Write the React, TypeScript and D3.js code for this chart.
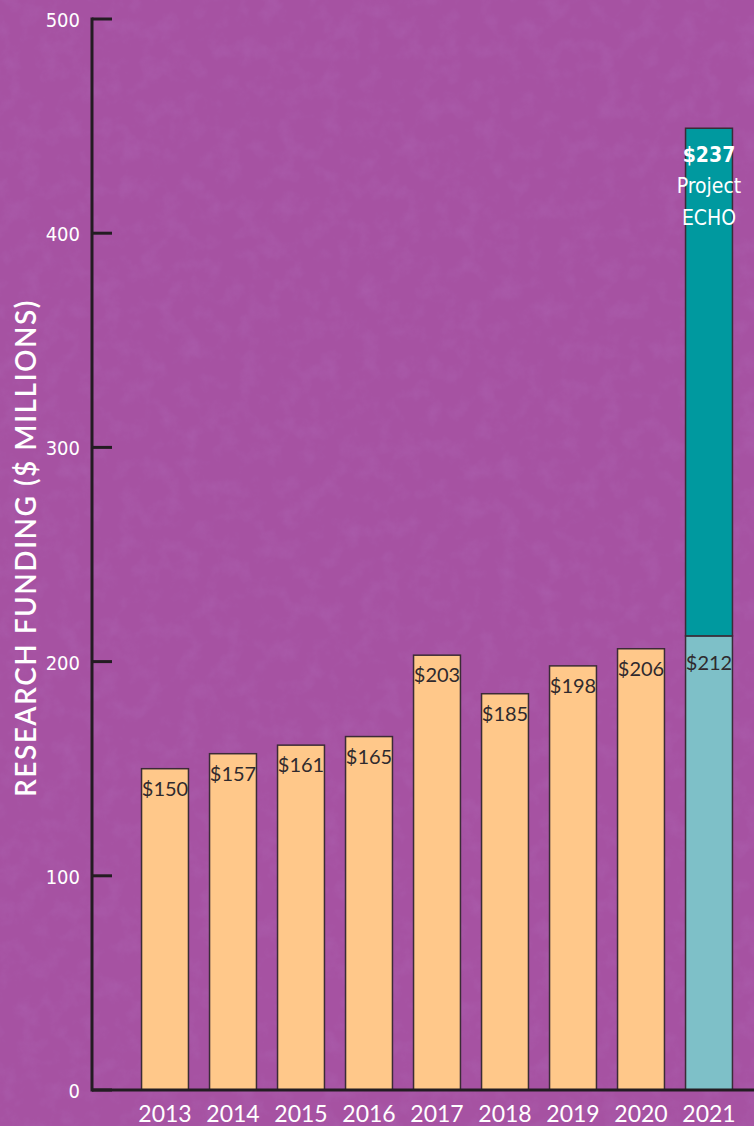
import React, { useRef, useEffect } from 'react';
import * as d3 from 'd3';

// chart values
const years = ['2013', '2014', '2015', '2016', '2017', '2018', '2019', '2020', '2021'];
const baseFunding = [150, 157, 161, 165, 203, 185, 198, 206, 212];
const echoFunding = [0, 0, 0, 0, 0, 0, 0, 0, 237];
const yTicks = [0, 100, 200, 300, 400, 500];

const W = 754;
const H = 1126;

const App = () => {
  const svgRef = useRef<SVGSVGElement>(null);

  useEffect(() => {
    const svg = d3.select(svgRef.current).attr('width', W).attr('height', H);
    svg.selectAll('*').remove();

    // mottled purple background
    const defs = svg.append('defs');
    const filt = defs.append('filter').attr('id', 'grain').attr('x', 0).attr('y', 0).attr('width', '100%').attr('height', '100%');
    filt.append('feTurbulence').attr('type', 'fractalNoise').attr('baseFrequency', 0.05).attr('numOctaves', 4).attr('seed', 7).attr('result', 'noise');
    filt.append('feColorMatrix').attr('type', 'matrix')
      .attr('values', '0 0 0 0 0.42  0 0 0 0 0.13  0 0 0 0 0.45  0 0 0 1.6 -0.7');

    svg.append('rect').attr('width', W).attr('height', H).attr('fill', '#a652a2');
    svg.append('rect').attr('width', W).attr('height', H).attr('filter', 'url(#grain)').attr('opacity', 0.55);

    const x = d3.scaleBand<string>().domain(years).range([131, 743]).paddingInner(0.31).paddingOuter(0.155);
    const y = d3.scaleLinear().domain([0, 500]).range([1090, 19]);

    const axisColor = '#231c22';
    const narrow = "'Liberation Sans Narrow', 'DejaVu Sans Condensed', sans-serif";

    // bars
    const g = svg.append('g');
    g.selectAll('rect.base')
      .data(years)
      .join('rect')
      .attr('class', 'base')
      .attr('x', d => x(d)!)
      .attr('width', x.bandwidth())
      .attr('y', (d, i) => y(baseFunding[i]))
      .attr('height', (d, i) => y(0) - y(baseFunding[i]))
      .attr('fill', (d, i) => (echoFunding[i] > 0 ? '#7ec0c8' : '#ffc88a'))
      .attr('stroke', '#3b2b36')
      .attr('stroke-width', 1.5);

    g.selectAll('rect.echo')
      .data(years.filter((d, i) => echoFunding[i] > 0))
      .join('rect')
      .attr('class', 'echo')
      .attr('x', d => x(d)!)
      .attr('width', x.bandwidth())
      .attr('y', d => {
        const i = years.indexOf(d);
        return y(baseFunding[i] + echoFunding[i]);
      })
      .attr('height', d => {
        const i = years.indexOf(d);
        return y(baseFunding[i]) - y(baseFunding[i] + echoFunding[i]);
      })
      .attr('fill', '#00999f')
      .attr('stroke', '#3b2b36')
      .attr('stroke-width', 1.5);

    // value labels
    g.selectAll('text.val')
      .data(years)
      .join('text')
      .attr('class', 'val')
      .attr('x', d => x(d)! + x.bandwidth() / 2)
      .attr('y', (d, i) => y(baseFunding[i]) + (echoFunding[i] > 0 ? 34 : 27))
      .attr('text-anchor', 'middle')
      .style('font-family', 'Lato, sans-serif')
      .style('font-size', '20px')
      .style('fill', '#2f2a2e')
      .text((d, i) => `$${baseFunding[i]}`);

    years.forEach((d, i) => {
      if (!echoFunding[i]) return;
      const cx = x(d)! + x.bandwidth() / 2;
      const top = y(baseFunding[i] + echoFunding[i]);
      const lbl = g.append('text')
        .attr('x', cx)
        .attr('text-anchor', 'middle')
        .style('font-family', narrow)
        .style('font-size', '21px')
        .style('fill', '#fff');
      lbl.append('tspan').attr('x', cx).attr('y', top + 34).style('font-weight', 'bold').text(`$${echoFunding[i]}`);
      lbl.append('tspan').attr('x', cx).attr('y', top + 65).text('Project');
      lbl.append('tspan').attr('x', cx).attr('y', top + 97).text('ECHO');
    });

    // axes
    svg.append('line')
      .attr('x1', 92).attr('x2', 92).attr('y1', y(500) - 1.5).attr('y2', y(0) + 1.5)
      .attr('stroke', axisColor).attr('stroke-width', 3);
    svg.append('line')
      .attr('x1', 92).attr('x2', W).attr('y1', y(0)).attr('y2', y(0))
      .attr('stroke', axisColor).attr('stroke-width', 3);

    svg.selectAll('line.tick')
      .data(yTicks)
      .join('line')
      .attr('class', 'tick')
      .attr('x1', 92).attr('x2', 112)
      .attr('y1', d => y(d)).attr('y2', d => y(d))
      .attr('stroke', axisColor).attr('stroke-width', 3);

    svg.selectAll('text.ytick')
      .data(yTicks)
      .join('text')
      .attr('class', 'ytick')
      .attr('x', 80)
      .attr('y', d => y(d) + 8)
      .attr('text-anchor', 'end')
      .style('font-family', narrow)
      .style('font-size', '20px')
      .style('fill', '#fff')
      .text(d => d);

    svg.selectAll('text.xtick')
      .data(years)
      .join('text')
      .attr('class', 'xtick')
      .attr('x', d => x(d)! + x.bandwidth() / 2)
      .attr('y', 1122)
      .attr('text-anchor', 'middle')
      .style('font-family', 'Lato, sans-serif')
      .style('font-size', '23px')
      .style('fill', '#fff')
      .text(d => d);

    // y axis title
    svg.append('text')
      .attr('transform', `translate(36, 548) rotate(-90)`)
      .attr('text-anchor', 'middle')
      .style('font-family', 'Lato, sans-serif')
      .style('font-size', '28px')
      .style('font-weight', 600)
      .style('letter-spacing', '1.5px')
      .style('fill', '#fff')
      .text('RESEARCH FUNDING ($ MILLIONS)');
  }, []);

  return (
    <div style={{ position: 'absolute', left: 0, top: 0 }}>
      <svg ref={svgRef} style={{ display: 'block' }}></svg>
    </div>
  );
};

export default App;
